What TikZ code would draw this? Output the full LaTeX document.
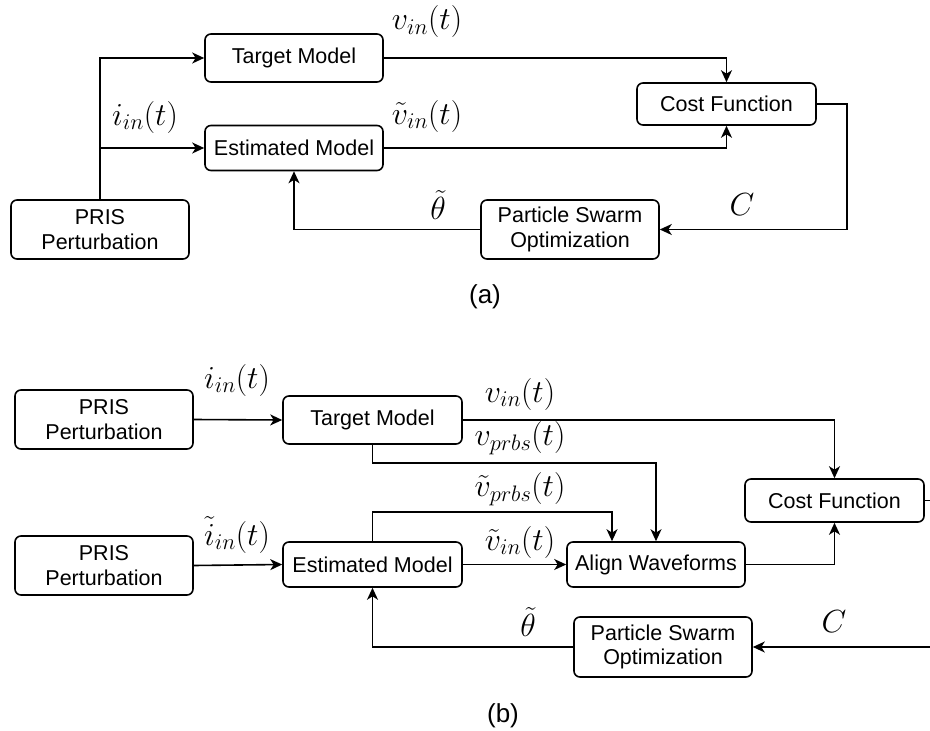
\RequirePackage{fix-cm}
\documentclass[tikz,border=0pt]{standalone}
\usepackage{fontspec}
\usepackage{amsmath}
\newfontfamily\blockfont{Liberation Sans}
\usetikzlibrary{arrows.meta}

\begin{document}
\begin{tikzpicture}[x=1pt,y=-1pt,line width=1.6pt,
		>={Stealth[length=12pt,width=11pt,inset=3.5pt]},
		block/.style={rectangle,draw,rounded corners=6pt,inner sep=0pt,align=center,
			minimum width=178pt,font=\blockfont\fontsize{21.5}{24.5}\selectfont},
		sig/.style={inner sep=0pt,font=\fontsize{32}{36}\selectfont},
		caption/.style={font=\blockfont\fontsize{26}{30}\selectfont}]
		\useasboundingbox (0,0) rectangle (930,731);
		
		% (a) plain identification loop
		\node[block, minimum height=48pt] (tgtA) at (294,58) {Target Model};
		\node[block, minimum height=45pt] (estA) at (294,148) {Estimated Model};
		\node[block, minimum height=59pt] (prisA) at (100,229.5) {PRIS\\Perturbation};
		\node[block, minimum height=42pt, minimum width=179pt] (costA) at (726.5,104) {Cost Function};
		\node[block, minimum height=59pt] (psoA) at (570,229.5) {Particle Swarm\\Optimization};
		
		\draw[->] (prisA.north) |- (tgtA.west);
		\draw[->] (prisA.north |- estA) -- (estA.west);
		\draw[->] (tgtA.east) -| (costA.north);
		\draw[->] (estA.east) -| (costA.south);
		\draw[->] (costA.east) -- ++(30,0) |- (psoA.east);
		\draw[->] (psoA.west) -| (estA.south);
		
		\node[sig] (iA) at (145,117) {$i_{in}(t)$};
		\node[sig] (vA) at (427,22) {$v_{in}(t)$};
		\node[sig] (veA) at (427,116) {$\tilde{v}_{in}(t)$};
		\node[sig] (thA) at (438,205) {$\tilde{\theta}$};
		\node[sig] (cA) at (742,205) {$C$};
		\node[caption] (capA) at (485,297) {(a)};
		
		% (b) loop with waveform alignment
		\node[block, minimum height=59pt] (prisB) at (104,419.5) {PRIS\\Perturbation};
		\node[block, minimum height=48pt, minimum width=179pt] (tgtB) at (372.5,420) {Target Model};
		\node[block, minimum height=59pt] (prisC) at (104,565.5) {PRIS\\Perturbation};
		\node[block, minimum height=45pt, minimum width=179pt] (estB) at (372.5,564.5) {Estimated Model};
		\node[block, minimum height=45pt] (alignB) at (656,564.5) {Align Waveforms};
		\node[block, minimum height=43pt, minimum width=179pt] (costB) at (834.5,500.5) {Cost Function};
		\node[block, minimum height=60pt] (psoB) at (663,647) {Particle Swarm\\Optimization};
		
		\draw[->] (prisB.east) -- (tgtB.west);
		\draw[->] (prisC.east) -- (estB.west);
		\draw[->] (tgtB.east) -| (costB.north);
		\draw[->] (tgtB.south) -- ++(0,18) -| (alignB.north);
		\draw[->] (estB.north) -- ++(0,-29) -| ([xshift=-44pt]alignB.north);
		\draw[->] (estB.east) -- (alignB.west);
		\draw[->] (alignB.east) -| (costB.south);
		\draw[->] (costB.east) -- ++(15,0) |- (psoB.east);
		\draw[->] (psoB.west) -| (estB.south);
		
		\node[sig] (iB) at (237,380) {$i_{in}(t)$};
		\node[sig] (ieB) at (237,535) {$\tilde{i}_{in}(t)$};
		\node[sig] (vB) at (520,394) {$v_{in}(t)$};
		\node[sig] (vpB) at (520,438) {$v_{prbs}(t)$};
		\node[sig] (vepB) at (520,489) {$\tilde{v}_{prbs}(t)$};
		\node[sig] (veB) at (520,542) {$\tilde{v}_{in}(t)$};
		\node[sig] (thB) at (528,622) {$\tilde{\theta}$};
		\node[sig] (cB) at (834,622) {$C$};
		\node[caption] (capB) at (503,716) {(b)};
\end{tikzpicture}
\end{document}
